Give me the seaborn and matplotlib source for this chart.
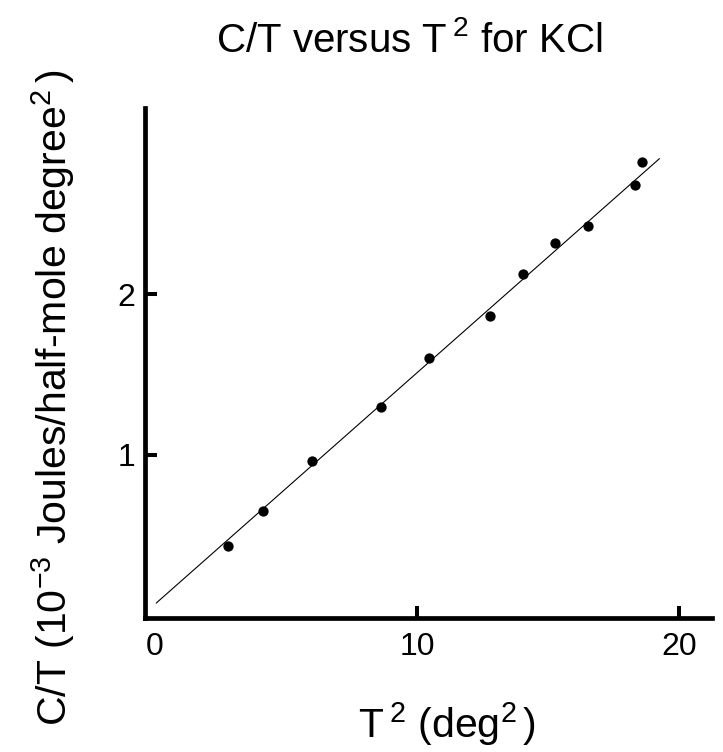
import numpy as np
import pandas as pd
import matplotlib
matplotlib.use("Agg")
import matplotlib.pyplot as plt
import seaborn as sns

# ---- data ----
t2_values = [2.77, 4.14, 5.99, 8.64, 10.45, 12.78, 14.03, 15.25, 16.53, 18.31, 18.60]
ct_values = [0.43, 0.65, 0.957, 1.30, 1.60, 1.867, 2.124, 2.321, 2.424, 2.681, 2.827]
fit_x = [0.05, 19.25]
fit_y = [0.074, 2.846]
x_ticks = [0, 10, 20]
y_ticks = [1, 2]
y_tick_labels = ["1", "2"]
x_tick_labels = ["0", "10", "20"]

title_text = r"C/T versus T$\,^{2}$ for KCl"
xlabel_text = r"T$\,^{2}$ (deg$^{2}\,$)"
ylabel_text = r"C/T (10$^{-3}$ Joules/half-mole degree$^{2}\,$)"

sns.set_theme(style="white")
plt.rcParams["font.family"] = ["Liberation Sans", "DejaVu Sans"]
plt.rcParams["mathtext.fontset"] = "custom"
plt.rcParams["mathtext.rm"] = "Liberation Sans"
plt.rcParams["mathtext.it"] = "Liberation Sans:italic"
plt.rcParams["mathtext.bf"] = "Liberation Sans:bold"
plt.rcParams["mathtext.default"] = "regular"

df = pd.DataFrame({"T2": t2_values, "CT": ct_values})
fit = pd.DataFrame({"x": fit_x, "y": fit_y})

fig = plt.figure(figsize=(7.23, 7.52), dpi=100)
ax = fig.add_axes([0.2012, 0.178, 0.985 - 0.2012, 0.856 - 0.178])

sns.lineplot(data=fit, x="x", y="y", ax=ax, color="black", linewidth=0.8)
sns.scatterplot(data=df, x="T2", y="CT", ax=ax, color="black", s=55,
                edgecolor="black", linewidth=0, zorder=3)

ax.set_xlim(-0.36, 21.26)
ax.set_ylim(-0.02, 3.16)

for side in ["top", "right"]:
    ax.spines[side].set_visible(False)
for side in ["left", "bottom"]:
    ax.spines[side].set_linewidth(3.4)
    ax.spines[side].set_color("black")
    ax.spines[side].set_capstyle("projecting")

ax.set_xticks(x_ticks)
ax.set_xticklabels(x_tick_labels)
ax.set_yticks(y_ticks)
ax.set_yticklabels(y_tick_labels)
ax.tick_params(axis="both", direction="in", length=8.6, width=2.9,
               color="black", labelsize=23, labelcolor="black",
               bottom=True, left=True)
ax.tick_params(axis="x", pad=10)
ax.tick_params(axis="y", pad=7)
ax.xaxis.get_major_ticks()[0].tick1line.set_visible(False)

ax.set_xlabel(xlabel_text, fontsize=29.5, color="black", va="top")
ax.xaxis.set_label_coords(0.532, -0.161)
ax.set_ylabel(ylabel_text, fontsize=29.5, color="black")
ax.yaxis.set_label_coords(-0.121, 0.431)

ax.set_title(title_text, fontsize=29, color="black", x=0.465, y=1.110, pad=0)

ax.grid(False)
fig.savefig("out.png", dpi=100, facecolor="white")
